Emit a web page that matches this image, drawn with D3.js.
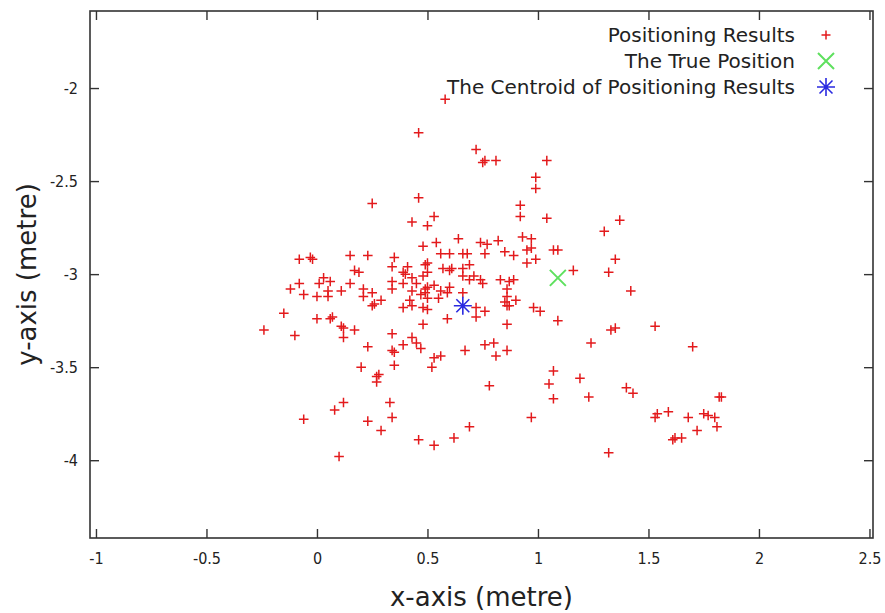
<!DOCTYPE html>
<html>
<head>
<meta charset="utf-8">
<script src="https://cdn.jsdelivr.net/npm/d3@7"></script>
<style>
  body { margin: 0; background: #fff; }
  svg { display: block; }
  .tick text { font-family: "DejaVu Sans Condensed", "DejaVu Sans", sans-serif; font-size: 16px; fill: #222; }
</style>
</head>
<body>
<div id="chart"></div>
<script>
// Positioning results (metre)
var resultsX = [0.58, 0.46, 0.72, 0.76, 0.75, 0.81, 1.04, 0.99, 0.99, 0.25, 0.46, 0.92, 0.92, 1.04, 1.37, 1.30,
  0.43, 0.53, 0.50, 0.48, 0.54, 0.64, 0.74, 0.77, 0.82, 0.93, 0.97, 0.97, 1.07, 1.09,
  -0.08, -0.02, -0.03, 0.15, 0.23, 0.17, 0.19, 0.03, -0.08, -0.12, 0.01, 0.06, 0.05, -0.06, 0.00, 0.05,
  0.11, 0.15, 0.21, 0.25, 0.21, 0.25, 0.26, -0.15, 0.00, 0.06, 0.07, 0.12, 0.11, 0.17, 0.12, -0.24, -0.10,
  0.23, 0.20, 0.35, 0.56, 0.60, 0.66, 0.68, 0.76, 0.85, 0.89, 0.95, 0.95, 0.99, 0.34, 0.41, 0.50, 0.49,
  0.50, 0.39, 0.40, 0.43, 0.48, 0.57, 0.60, 0.61, 0.66, 0.69, 0.66, 0.71, 0.69, 0.74, 0.75, 0.83, 0.87,
  0.89, 0.34, 0.34, 0.39, 0.45, 0.43, 0.49, 0.50, 0.49, 0.53, 0.56, 0.60, 0.66, 0.59, 0.55, 0.50, 0.42,
  0.47, 0.43, 0.48, 0.50, 0.39, 0.29, 0.86, 0.86, 0.90, 0.85, 0.86, 0.87, 0.72, 0.76, 0.72, 0.59, 0.48,
  0.98, 1.01, 0.86, 0.34, 0.43, 0.45, 0.39, 0.34, 0.35, 0.47, 0.67, 0.76, 0.80, 0.86, 0.81, 0.35, 0.56,
  0.53, 0.52, 1.35, 1.16, 1.32, 1.42, 1.09, 1.33, 1.35, 1.53, 1.24, 1.70, 1.07, 1.19, 0.27, 0.28, 0.27,
  0.78, 0.12, 0.08, 0.33, -0.06, 0.23, 0.34, 0.29, 0.46, 0.53, 0.62, 0.69, 0.10, 1.05, 1.07, 1.23, 0.97,
  1.40, 1.43, 1.82, 1.83, 1.53, 1.54, 1.59, 1.68, 1.75, 1.77, 1.80, 1.81, 1.72, 1.61, 1.62, 1.65, 1.32];
var resultsY = [-2.06, -2.24, -2.33, -2.39, -2.40, -2.39, -2.39, -2.48, -2.54, -2.62, -2.59, -2.63, -2.69, -2.70, -2.71, -2.77,
  -2.72, -2.69, -2.74, -2.85, -2.83, -2.81, -2.83, -2.84, -2.82, -2.80, -2.81, -2.86, -2.87, -2.87,
  -2.92, -2.92, -2.91, -2.90, -2.90, -2.98, -2.99, -3.02, -3.05, -3.08, -3.05, -3.04, -3.09, -3.11, -3.12, -3.12,
  -3.09, -3.05, -3.08, -3.10, -3.12, -3.17, -3.16, -3.21, -3.24, -3.24, -3.23, -3.29, -3.28, -3.30, -3.34, -3.30, -3.33,
  -3.39, -3.50, -2.91, -2.89, -2.89, -2.89, -2.89, -2.89, -2.88, -2.90, -2.87, -2.94, -2.92, -2.96, -2.96, -2.94, -2.95,
  -2.99, -2.99, -3.00, -3.02, -3.01, -2.97, -2.98, -2.97, -2.97, -2.95, -3.01, -3.01, -3.03, -3.03, -3.05, -3.03, -3.04,
  -3.03, -3.04, -3.08, -3.05, -3.05, -3.09, -3.08, -3.07, -3.10, -3.06, -3.09, -3.07, -3.10, -3.10, -3.13, -3.13, -3.14,
  -3.11, -3.17, -3.18, -3.19, -3.18, -3.14, -3.08, -3.12, -3.14, -3.15, -3.17, -3.17, -3.18, -3.20, -3.23, -3.24, -3.27,
  -3.18, -3.20, -3.27, -3.32, -3.34, -3.37, -3.38, -3.41, -3.42, -3.40, -3.41, -3.38, -3.37, -3.41, -3.44, -3.49, -3.44,
  -3.45, -3.50, -2.92, -2.98, -2.99, -3.09, -3.25, -3.30, -3.29, -3.28, -3.37, -3.39, -3.52, -3.56, -3.55, -3.54, -3.58,
  -3.60, -3.69, -3.73, -3.69, -3.78, -3.79, -3.77, -3.84, -3.89, -3.92, -3.88, -3.82, -3.98, -3.59, -3.67, -3.66, -3.77,
  -3.61, -3.64, -3.66, -3.66, -3.77, -3.75, -3.74, -3.77, -3.75, -3.76, -3.77, -3.82, -3.84, -3.89, -3.88, -3.88, -3.96];
var truePos = [1.09, -3.02];
var centroid = [0.66, -3.17];

var xTicks = [-1, -0.5, 0, 0.5, 1, 1.5, 2, 2.5];
var yTicks = [-2, -2.5, -3, -3.5, -4];
var legendLabels = ["Positioning Results", "The True Position", "The Centroid of Positioning Results"];

var width = 885, height = 613;
var plotLeft = 90, plotRight = 873, plotTop = 11, plotBottom = 538;
var tickLen = 9;
var axisColor = "#333";

var svg = d3.select("#chart").append("svg")
    .attr("width", width)
    .attr("height", height);

var xScale = d3.scaleLinear().domain([-1.027, 2.516]).range([plotLeft, plotRight]);
var yScale = d3.scaleLinear().domain([-4.418, -1.586]).range([plotBottom, plotTop]);

var fmt = function(d) { return String(d); };

// bottom + left axes with labels, ticks pointing inward
var xAxis = d3.axisBottom(xScale).tickValues(xTicks).tickSize(-tickLen).tickPadding(15).tickFormat(fmt);
var yAxis = d3.axisLeft(yScale).tickValues(yTicks).tickSize(-tickLen).tickPadding(12).tickFormat(fmt);

svg.append("g").attr("class", "xAxis")
    .attr("transform", `translate(0, ${plotBottom})`)
    .call(xAxis);
svg.append("g").attr("class", "yAxis")
    .attr("transform", `translate(${plotLeft}, 0)`)
    .call(yAxis);

// mirrored ticks on top and right
svg.append("g")
    .attr("transform", `translate(0, ${plotTop})`)
    .call(d3.axisTop(xScale).tickValues(xTicks).tickSize(-tickLen).tickFormat(""));
svg.append("g")
    .attr("transform", `translate(${plotRight}, 0)`)
    .call(d3.axisRight(yScale).tickValues(yTicks).tickSize(-tickLen).tickFormat(""));

svg.selectAll(".domain").remove();
svg.selectAll(".tick line").attr("stroke", axisColor).attr("stroke-width", 1.4);

// frame
svg.append("rect")
    .attr("x", plotLeft).attr("y", plotTop)
    .attr("width", plotRight - plotLeft).attr("height", plotBottom - plotTop)
    .attr("fill", "none")
    .attr("stroke", axisColor)
    .attr("stroke-width", 1.6);

// axis titles
svg.append("text")
    .attr("x", (plotLeft + plotRight) / 2)
    .attr("y", 606)
    .attr("text-anchor", "middle")
    .attr("font-family", "DejaVu Sans, sans-serif")
    .attr("font-size", 26)
    .attr("fill", "#222")
    .text("x-axis (metre)");

svg.append("text")
    .attr("transform", `translate(36, ${(plotTop + plotBottom) / 2}) rotate(-90)`)
    .attr("text-anchor", "middle")
    .attr("font-family", "DejaVu Sans, sans-serif")
    .attr("font-size", 26)
    .attr("fill", "#222")
    .text("y-axis (metre)");

// marker paths
function plusPath(s) { return `M${-s},0H${s}M0,${-s}V${s}`; }
function crossPath(s) { return `M${-s},${-s}L${s},${s}M${-s},${s}L${s},${-s}`; }
function starPath(s) {
  var d = s * 0.72;
  return plusPath(s) + crossPath(d);
}

var red = "#e31a1c", green = "#5ee05e", blue = "#2a2ae0";

// positioning results
var results = resultsX.map(function(x, i) { return [x, resultsY[i]]; });
svg.append("g").selectAll("path")
    .data(results)
    .enter().append("path")
    .attr("transform", function(d) { return `translate(${xScale(d[0])},${yScale(d[1])})`; })
    .attr("d", plusPath(4.8))
    .attr("fill", "none")
    .attr("stroke", red)
    .attr("stroke-width", 1.5);

// true position
svg.append("path")
    .attr("transform", `translate(${xScale(truePos[0])},${yScale(truePos[1])})`)
    .attr("d", crossPath(8))
    .attr("fill", "none")
    .attr("stroke", green)
    .attr("stroke-width", 2);

// centroid
svg.append("path")
    .attr("transform", `translate(${xScale(centroid[0])},${yScale(centroid[1])})`)
    .attr("d", starPath(9))
    .attr("fill", "none")
    .attr("stroke", blue)
    .attr("stroke-width", 1.6);

// legend
var legend = svg.append("g").attr("class", "legend");
var legendMarks = [
  { d: plusPath(4.5), c: red, w: 1.5 },
  { d: crossPath(8), c: green, w: 2 },
  { d: starPath(9), c: blue, w: 1.6 }
];
legendLabels.forEach(function(label, i) {
  var y = 35 + i * 26;
  legend.append("text")
      .attr("x", 795)
      .attr("y", y)
      .attr("dy", "0.35em")
      .attr("text-anchor", "end")
      .attr("font-family", "DejaVu Sans, sans-serif")
      .attr("font-size", 20)
      .attr("fill", "#222")
      .text(label);
  legend.append("path")
      .attr("transform", `translate(826, ${y})`)
      .attr("d", legendMarks[i].d)
      .attr("fill", "none")
      .attr("stroke", legendMarks[i].c)
      .attr("stroke-width", legendMarks[i].w);
});
</script>
</body>
</html>
